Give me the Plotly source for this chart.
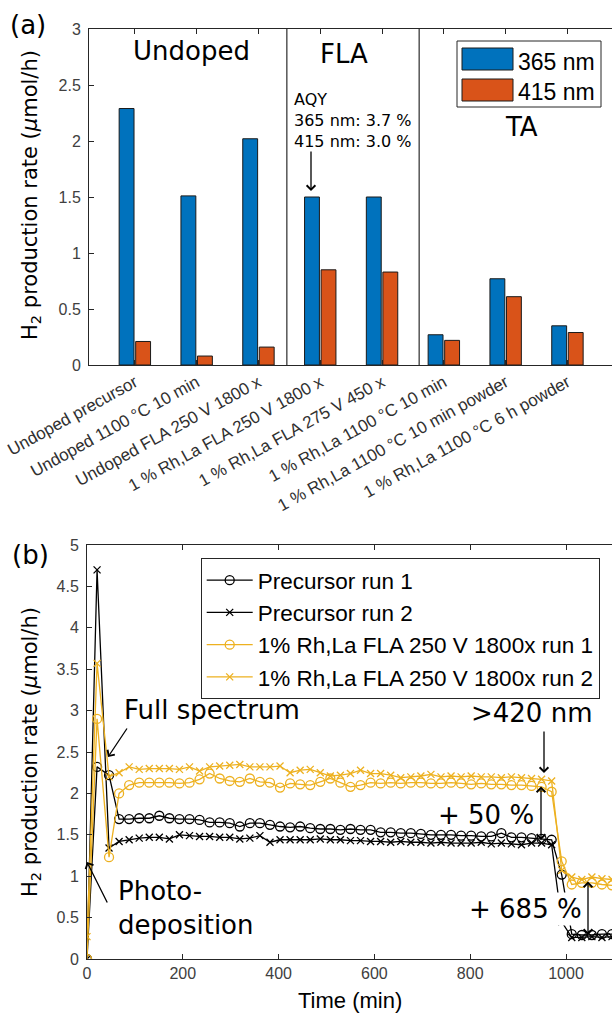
import plotly.graph_objects as go

# ---------------- data: panel (a) ----------------
categories = [
    "Undoped precursor",
    "Undoped 1100 °C 10 min",
    "Undoped FLA 250 V 1800 x",
    "1 % Rh,La FLA 250 V 1800 x",
    "1 % Rh,La FLA 275 V 450 x",
    "1 % Rh,La 1100 °C 10 min",
    "1 % Rh,La 1100 °C 10 min powder",
    "1 % Rh,La 1100 °C 6 h powder",
]
rate_365 = [2.29, 1.51, 2.02, 1.50, 1.50, 0.27, 0.77, 0.35]
rate_415 = [0.21, 0.08, 0.16, 0.85, 0.83, 0.22, 0.61, 0.29]
group_dividers = [2.46, 4.60]   # category-index positions of the vertical separators

# ---------------- data: panel (b) ----------------
time_min = [0, 21, 46, 67, 88, 109, 130, 151, 172, 193, 214, 235, 256, 277, 298, 319,
            340, 361, 382, 403, 424, 445, 466, 487, 508, 529, 550, 571, 592, 613, 634,
            655, 676, 697, 718, 739, 760, 781, 802, 823, 844, 865, 886, 907, 928, 949,
            970, 991, 1012, 1033, 1054, 1075, 1096]
precursor_run1 = [0.00, 2.32, 2.22,
                  1.69, 1.69, 1.70, 1.70, 1.73, 1.70, 1.69, 1.69, 1.68, 1.65, 1.65, 1.64,
                  1.60, 1.64, 1.64, 1.62, 1.60, 1.59, 1.60, 1.58, 1.57, 1.57, 1.56, 1.57,
                  1.56, 1.56, 1.53, 1.53, 1.52, 1.52, 1.51, 1.50, 1.50, 1.50, 1.49, 1.49,
                  1.48, 1.48, 1.52, 1.47, 1.47, 1.46, 1.45, 1.44,
                  1.02, 0.30, 0.29, 0.29, 0.30, 0.30]
precursor_run2 = [0.00, 4.70, 1.34,
                  1.42, 1.44, 1.46, 1.47, 1.47, 1.45, 1.50, 1.49, 1.48, 1.48, 1.47, 1.47,
                  1.45, 1.46, 1.49, 1.41, 1.44, 1.44, 1.44, 1.44, 1.45, 1.44, 1.44, 1.43,
                  1.43, 1.42, 1.42, 1.41, 1.42, 1.41, 1.41, 1.40, 1.41, 1.40, 1.40, 1.40,
                  1.41, 1.39, 1.40, 1.39, 1.38, 1.40, 1.40, 1.38,
                  0.45, 0.26, 0.26, 0.27, 0.26, 0.27]
fla_run1 = [0.00, 2.90, 1.23,
            2.00, 2.10, 2.13, 2.13, 2.13, 2.13, 2.12, 2.13, 2.17, 2.24, 2.18, 2.15,
            2.14, 2.18, 2.14, 2.13, 2.07, 2.12, 2.11, 2.10, 2.14, 2.18, 2.13, 2.08,
            2.10, 2.13, 2.12, 2.13, 2.12, 2.13, 2.13, 2.12, 2.12, 2.13, 2.12, 2.11,
            2.12, 2.11, 2.11, 2.10, 2.10, 2.09, 2.08, 2.02,
            1.18, 0.90, 0.92, 0.92, 0.90, 0.89]
fla_run2 = [0.27, 3.57, 2.20,
            2.25, 2.32, 2.29, 2.30, 2.30, 2.30, 2.29, 2.32, 2.27, 2.32, 2.33, 2.34,
            2.35, 2.32, 2.32, 2.32, 2.33, 2.25, 2.28, 2.29, 2.25, 2.21, 2.22, 2.24,
            2.28, 2.24, 2.24, 2.22, 2.19, 2.20, 2.21, 2.23, 2.20, 2.21, 2.20, 2.21,
            2.20, 2.20, 2.19, 2.20, 2.19, 2.18, 2.17, 2.15,
            1.07, 0.99, 0.96, 0.99, 0.97, 0.96]

series_b = [
    ("Precursor run 1", precursor_run1, "#000000", "circle-open"),
    ("Precursor run 2", precursor_run2, "#000000", "x-thin-open"),
    ("1% Rh,La FLA 250 V 1800x run 1", fla_run1, "#EDB120", "circle-open"),
    ("1% Rh,La FLA 250 V 1800x run 2", fla_run2, "#EDB120", "x-thin-open"),
]

# ---------------- geometry helpers ----------------
W, H = 612, 1013
def px(x):
    return x / W
def py(y):
    return 1 - y / H

TICKFONT = dict(family="Arial, Liberation Sans", size=16, color="#404040")
XCATFONT = dict(family="Arial, Liberation Sans", size=17, color="#303030")
TITLEFONT = dict(family="Arial, Liberation Sans", size=22, color="#000000")
YTITLEFONT = dict(family="DejaVu Sans", size=21, color="#000000")
ANNFONT = dict(family="DejaVu Sans", size=26, color="#000000")
AXCOL = "#262626"

fig = go.Figure()

fig.add_trace(go.Bar(x=categories, y=rate_365, name="365 nm", marker=dict(color="#0072BD", line=dict(color="#1a1a1a", width=1)),
                     xaxis="x", yaxis="y", showlegend=False))
fig.add_trace(go.Bar(x=categories, y=rate_415, name="415 nm", marker=dict(color="#D95319", line=dict(color="#1a1a1a", width=1)),
                     xaxis="x", yaxis="y", showlegend=False))

for name, vals, col, sym in series_b:
    fig.add_trace(go.Scatter(
        x=time_min, y=vals, name=name, mode="lines+markers",
        line=dict(color=col, width=1.3),
        marker=dict(symbol=sym, size=9 if "circle" in sym else 7, color=col, line=dict(color=col, width=1.3)),
        xaxis="x2", yaxis="y2", showlegend=True))

axis_common = dict(showgrid=False, zeroline=False, showline=True, linecolor=AXCOL, linewidth=1,
                   ticks="inside", ticklen=5, tickcolor=AXCOL, tickfont=TICKFONT, automargin=False)
right_ticks = dict(side="right", showline=False, showgrid=False, zeroline=False, showticklabels=False,
                   ticks="inside", ticklen=5, tickcolor=AXCOL, automargin=False)

fig.update_layout(
    width=W, height=H, autosize=False,
    margin=dict(l=0, r=0, t=0, b=0, pad=0),
    paper_bgcolor="white", plot_bgcolor="white",
    barmode="group", bargap=0.465, bargroupgap=0.1,
    xaxis=dict(domain=[px(89), 1], range=[-0.742, 7.721], type="category", anchor="y",
               tickangle=-29, mirror="ticks", **{**axis_common, "tickfont": XCATFONT}),
    yaxis=dict(domain=[py(365), py(29)], range=[0, 3], dtick=0.5, anchor="x",
               ticklabelstandoff=4, **axis_common),
    yaxis3=dict(overlaying="y", anchor="x", range=[0, 3], dtick=0.5, **right_ticks),
    xaxis2=dict(domain=[px(87), 1], range=[0, 1096], dtick=200, anchor="y2",
                mirror="ticks", **axis_common),
    yaxis2=dict(domain=[py(959), py(545)], range=[0, 5], dtick=0.5, anchor="x2",
                ticklabelstandoff=4, **axis_common),
    yaxis4=dict(overlaying="y2", anchor="x2", range=[0, 5], dtick=0.5, **right_ticks),
    legend=dict(x=px(200.7), y=py(558), xanchor="left", yanchor="top",
                bordercolor=AXCOL, borderwidth=1, bgcolor="white",
                font=dict(family="Arial, Liberation Sans", size=22.5, color="#000000"),
                itemwidth=46, tracegroupgap=0),
)

shapes = []
for xd in group_dividers:
    shapes.append(dict(type="line", xref="x", yref="y", x0=xd, x1=xd, y0=0, y1=3,
                       line=dict(color="#000000", width=1)))
# custom legend for panel (a)
shapes.append(dict(type="rect", xref="paper", yref="paper", x0=px(457), x1=px(601), y0=py(107), y1=py(41),
                   line=dict(color=AXCOL, width=1), fillcolor="white", layer="above"))
shapes.append(dict(type="rect", xref="paper", yref="paper", x0=px(462), x1=px(513), y0=py(70), y1=py(48),
                   line=dict(color="#1a1a1a", width=1), fillcolor="#0072BD", layer="above"))
shapes.append(dict(type="rect", xref="paper", yref="paper", x0=px(462), x1=px(513), y0=py(101), y1=py(79),
                   line=dict(color="#1a1a1a", width=1), fillcolor="#D95319", layer="above"))
fig.update_layout(shapes=shapes)

anns = []
def text(t, x, y, xanchor="center", font=ANNFONT, **kw):
    anns.append(dict(text=t, x=px(x), y=py(y), xref="paper", yref="paper", xanchor=xanchor,
                     yanchor="middle", showarrow=False, font=font, **kw))

def arrow(hx, hy, tx, ty, both=False):
    anns.append(dict(text="", x=px(hx), y=py(hy), xref="paper", yref="paper", showarrow=True,
                     ax=tx - hx, ay=ty - hy, axref="pixel", ayref="pixel",
                     arrowhead=4, arrowsize=1.3, arrowwidth=1.3, arrowcolor="#000000",
                     startarrowhead=4, startarrowsize=1.3,
                     arrowside="end+start" if both else "end", standoff=0, startstandoff=0))

# panel (a)
text("(a)", 28, 25)
text("Undoped", 191.5, 50.5)
text("FLA", 344, 53.7)
text("TA", 521.5, 126.7)
text("AQY<br>365 nm: 3.7 %<br>415 nm: 3.0 %", 291.5, 120, xanchor="left",
     font=dict(family="DejaVu Sans", size=16, color="#000000"), align="left")
arrow(311, 191, 311, 150)
text("365 nm", 516, 62, xanchor="left", font=dict(family="Arial, Liberation Sans", size=23, color="#000000"))
text("415 nm", 516, 92.5, xanchor="left", font=dict(family="Arial, Liberation Sans", size=23, color="#000000"))
text("H<sub>2</sub> production rate (<i>μ</i>mol/h)", 31, 195, font=YTITLEFONT, textangle=-90)

# panel (b)
text("(b)", 30, 555)
text("Full spectrum", 121.7, 709.7, xanchor="left")
arrow(108, 757, 128, 727)
text("Photo-<br>deposition", 116, 908, xanchor="left", align="left")
arrow(87, 862, 108, 904)
text("&gt;420 nm", 531.5, 713.4)
arrow(544, 773, 544, 730)
text("+ 50 %", 485.5, 815.4)
arrow(541, 840, 541, 785, both=True)
text("+ 685 %", 525.5, 908.7, bgcolor="white")
arrow(588, 935, 588, 880, both=True)
text("Time (min)", 350, 1000.5, font=TITLEFONT)
text("H<sub>2</sub> production rate (<i>μ</i>mol/h)", 31, 752, font=YTITLEFONT, textangle=-90)

fig.update_layout(annotations=anns)

fig.write_html("out.html", config={"displayModeBar": False},
               post_script="document.body.style.margin='0px';document.body.style.overflow='hidden';")
